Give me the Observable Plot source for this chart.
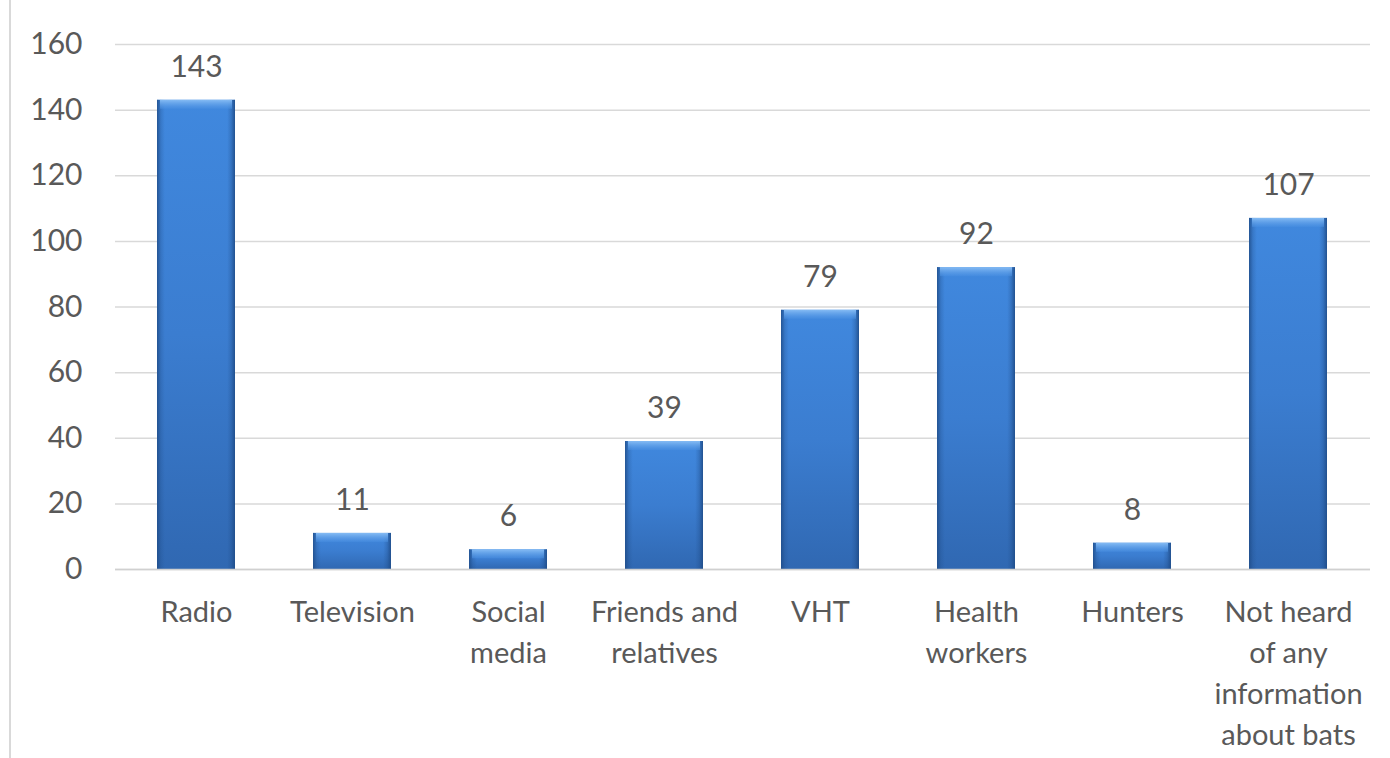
<!DOCTYPE html>
<html>
<head>
<meta charset="utf-8">
<script src="https://cdn.jsdelivr.net/npm/d3@7"></script>
<script src="https://cdn.jsdelivr.net/npm/@observablehq/plot@0.6"></script>
<style>
  html, body { margin: 0; padding: 0; background: #fff; }
  #wrap { position: relative; width: 1390px; height: 758px; }
  #edge { position: absolute; left: 9px; top: 0; width: 2px; height: 758px; background: #d9d9d9; }
  #chart { position: absolute; left: 0; top: 0; }
</style>
</head>
<body>
<div id="wrap"><div id="edge"></div><div id="chart"></div></div>
<script>
const categories = ["Radio", "Television", "Social media", "Friends and relatives", "VHT", "Health workers", "Hunters", "Not heard of any information about bats"];
const labels = ["Radio", "Television", "Social\nmedia", "Friends and\nrelatives", "VHT", "Health\nworkers", "Hunters", "Not heard\nof any\ninformation\nabout bats"];
const values = [143, 11, 6, 39, 79, 92, 8, 107];
const yTicks = [0, 20, 40, 60, 80, 100, 120, 140, 160];

const data = categories.map((c, i) => ({category: c, value: values[i]}));
const labelOf = new Map(categories.map((c, i) => [c, labels[i]]));
const font = "Lato, 'Open Sans', sans-serif";
const ink = "#595959";

const chart = Plot.plot({
  width: 1390,
  height: 758,
  marginLeft: 115,
  marginRight: 20,
  marginTop: 44,
  marginBottom: 189,
  style: {fontFamily: font, background: "transparent"},
  x: {domain: categories, paddingInner: 0.497, paddingOuter: 0.2485, label: null},
  y: {domain: [0, 160], label: null},
  marks: [
    Plot.ruleY(yTicks, {stroke: "#d9d9d9", strokeWidth: 1.5}),
    Plot.axisY({ticks: yTicks, tickSize: 0, tickPadding: 33, fontSize: 30, fill: ink, textAnchor: "end", label: null}),
    Plot.axisX({tickSize: 0, tickPadding: 23, fontSize: 29, fill: ink, lineHeight: 1.42, tickFormat: d => labelOf.get(d), label: null}),
    Plot.barY(data, {x: "category", y: "value", fill: "url(#barV)"}),
    Plot.barY(data, {x: "category", y: "value", fill: "url(#barH)"}),
    Plot.barY(data, {x: "category", y1: "value", y2: "value", insetBottom: -9, insetLeft: 3, insetRight: 3, fill: "url(#bevel)"}),
    Plot.ruleY([0], {stroke: "#d0d0d0", strokeWidth: 1.5}),
    Plot.text(data, {x: "category", y: "value", text: d => String(d.value), dy: -33, fontSize: 30, fill: ink, fontFamily: font})
  ]
});

const defs = `
<defs>
  <linearGradient id="barV" x1="0" y1="0" x2="0" y2="1">
    <stop offset="0" stop-color="#4088de"/>
    <stop offset="0.5" stop-color="#3b7dd0"/>
    <stop offset="1" stop-color="#3068b2"/>
  </linearGradient>
  <linearGradient id="barH" x1="0" y1="0" x2="1" y2="0">
    <stop offset="0" stop-color="#1f4c88" stop-opacity="0.85"/>
    <stop offset="0.05" stop-color="#1f4c88" stop-opacity="0.25"/>
    <stop offset="0.1" stop-color="#1f4c88" stop-opacity="0"/>
    <stop offset="0.9" stop-color="#1f4c88" stop-opacity="0"/>
    <stop offset="0.95" stop-color="#1f4c88" stop-opacity="0.3"/>
    <stop offset="1" stop-color="#1f4c88" stop-opacity="0.9"/>
  </linearGradient>
  <linearGradient id="bevel" x1="0" y1="0" x2="0" y2="1">
    <stop offset="0" stop-color="#86bcf4"/>
    <stop offset="1" stop-color="#4a90e2" stop-opacity="0.5"/>
  </linearGradient>
</defs>`;
chart.insertAdjacentHTML("afterbegin", defs);
document.getElementById("chart").append(chart);
</script>
</body>
</html>
